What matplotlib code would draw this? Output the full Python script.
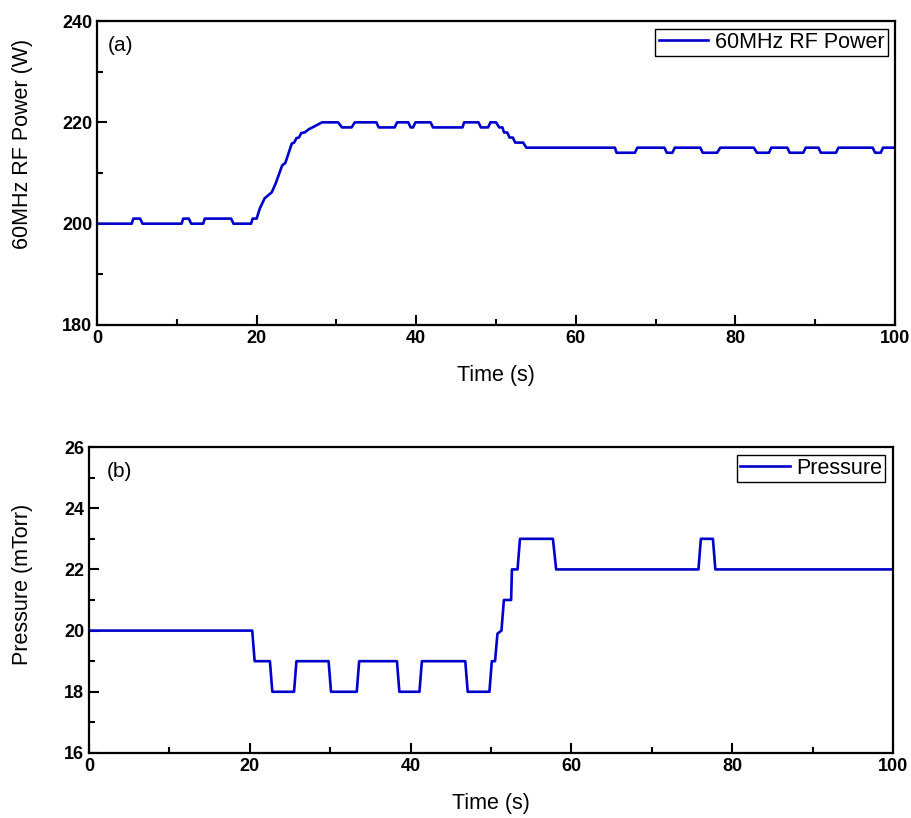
import matplotlib.pyplot as plt
from matplotlib.ticker import MultipleLocator

# vertices (time in s)
power_t = [0, 4.35, 4.55, 5.4, 5.7, 10.6, 10.8, 11.5, 11.8, 13.3, 13.5, 16.8, 17.1,
           19.3, 19.5, 20.0, 20.4, 21.0, 21.9, 22.4, 23.2, 23.6, 24.4, 24.7, 25.0,
           25.3, 25.6, 26.0, 26.6, 27.0, 28.2, 30.2, 30.7, 31.9, 32.3,
           35.0, 35.3, 37.3, 37.6, 39.0, 39.3, 39.6, 39.9, 41.8, 42.1, 45.8, 46.0,
           47.8, 48.1, 49.0, 49.3, 50.0, 50.4, 50.8, 51.0, 51.4, 51.7, 52.1, 52.4,
           53.4, 53.8, 64.9, 65.1, 67.4, 67.7, 71.1, 71.4, 72.1, 72.4, 75.6, 75.9,
           77.7, 78.1, 82.3, 82.7, 84.2, 84.5, 86.5, 86.8, 88.5, 88.8, 90.4, 90.7,
           92.6, 92.9, 97.2, 97.5, 98.2, 98.5, 100]
power_w = [200, 200, 201, 201, 200, 200, 201, 201, 200, 200, 201, 201, 200,
           200, 201, 201, 203, 205, 206.2, 208, 211.5, 212, 215.8, 216, 216.9,
           217, 217.9, 218, 218.7, 219, 220, 220, 219, 219, 220,
           220, 219, 219, 220, 220, 219, 219, 220, 220, 219, 219, 220,
           220, 219, 219, 220, 220, 219, 219, 218, 218, 217, 217, 216,
           216, 215, 215, 214, 214, 215, 215, 214, 214, 215, 215, 214,
           214, 215, 215, 214, 214, 215, 215, 214, 214, 215, 215, 214,
           214, 215, 215, 214, 214, 215, 215]

press_t = [0, 20.3, 20.6, 22.5, 22.8, 25.5, 25.8, 29.8, 30.1, 33.3, 33.6,
           38.3, 38.6, 41.1, 41.4, 46.8, 47.1, 49.8, 50.1, 50.5, 50.8, 51.3,
           51.6, 52.5, 52.6, 53.3, 53.6, 57.7, 58.1, 75.8, 76.1, 77.6, 77.9, 100]
press_mt = [20, 20, 19, 19, 18, 18, 19, 19, 18, 18, 19,
            19, 18, 18, 19, 19, 18, 18, 19, 19, 19.9, 20,
            21, 21, 22, 22, 23, 23, 22, 22, 23, 23, 22, 22]

line_color = '#0000cc'
plt.rcParams['font.family'] = ['Liberation Sans', 'DejaVu Sans']

fig = plt.figure(figsize=(9.12, 8.18), dpi=100)
ax1 = fig.add_axes([0.1064, 0.6027, 0.875, 0.3716])
ax2 = fig.add_axes([0.0976, 0.0795, 0.8816, 0.374])

ax1.plot(power_t, power_w, color=line_color, lw=1.9, label='60MHz RF Power')
ax2.plot(press_t, press_mt, color=line_color, lw=1.9, label='Pressure')

ax1.set_ylim(180, 240)
ax1.yaxis.set_major_locator(MultipleLocator(20))
ax1.yaxis.set_minor_locator(MultipleLocator(10))
ax1.set_ylabel('60MHz RF Power (W)', fontsize=15.5)
ax1.yaxis.set_label_coords(-0.080, 0.595)
ax1.text(0.013, 0.95, '(a)', transform=ax1.transAxes, fontsize=15, va='top')

ax2.set_ylim(16, 26)
ax2.yaxis.set_major_locator(MultipleLocator(2))
ax2.yaxis.set_minor_locator(MultipleLocator(1))
ax2.set_ylabel('Pressure (mTorr)', fontsize=15.5)
ax2.yaxis.set_label_coords(-0.070, 0.552)
ax2.text(0.022, 0.95, '(b)', transform=ax2.transAxes, fontsize=15, va='top')

for ax in (ax1, ax2):
    ax.set_xlim(0, 100)
    ax.xaxis.set_major_locator(MultipleLocator(20))
    ax.xaxis.set_minor_locator(MultipleLocator(10))
    ax.set_xlabel('Time (s)', fontsize=15.5, labelpad=13)
    ax.tick_params(which='both', direction='in', width=1.5, top=False, right=False)
    ax.tick_params(which='major', length=7, labelsize=13)
    ax.tick_params(which='minor', length=4)
    for lab in ax.get_xticklabels() + ax.get_yticklabels():
        lab.set_fontweight('bold')
    for sp in ax.spines.values():
        sp.set_linewidth(1.6)
    leg = ax.legend(loc='upper right', fontsize=15.5, fancybox=False,
                    edgecolor='black', framealpha=1, borderaxespad=0.35,
                    handlelength=2.3, borderpad=0.15, handletextpad=0.3)
    leg.get_frame().set_linewidth(1.0)

fig.savefig('out.png', dpi=100)
